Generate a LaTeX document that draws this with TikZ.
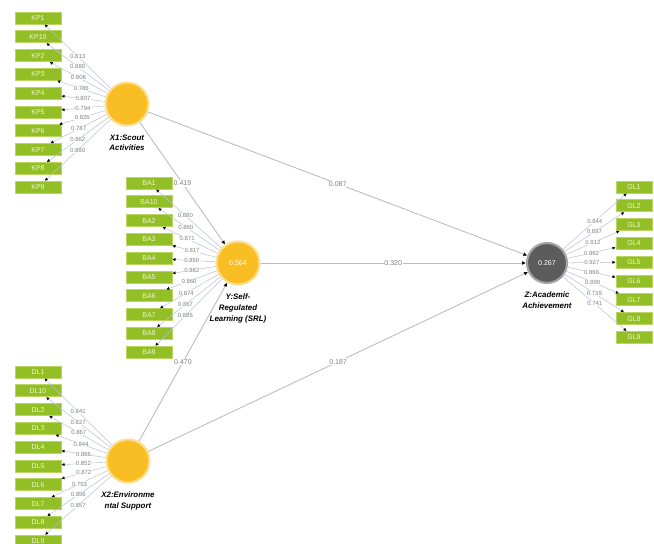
\documentclass[tikz,border=0pt]{standalone}
\usepackage{fontspec}
\setmainfont{Liberation Sans}
\usetikzlibrary{arrows.meta,positioning}
\definecolor{indgreen}{RGB}{146,190,38}
\definecolor{indedge}{RGB}{186,214,96}
\definecolor{indtext}{RGB}{240,246,205}
\definecolor{latyellow}{RGB}{249,190,36}
\definecolor{latglow}{RGB}{253,222,140}
\definecolor{latgray}{RGB}{92,92,92}
\definecolor{pathgray}{RGB}{188,188,188}
\definecolor{loadblue}{RGB}{184,194,218}
\tikzset{
  indbox/.style={draw=indedge,fill=indgreen,line width=0.4pt,minimum width=0.92cm,
    minimum height=0.24cm,inner sep=0pt,text=indtext,font=\fontsize{4}{4}\selectfont},
  latvar/.style={circle,fill=latyellow,draw=latglow,line width=1.2pt,minimum size=0.86cm,
    inner sep=0pt,text=white,font=\fontsize{4}{4}\selectfont},
  latname/.style={align=center,font=\fontsize{4.5}{6.2}\selectfont\bfseries\itshape},
  loadline/.style={draw=loadblue,line width=0.3pt,-{Latex[length=1.8pt,width=1.8pt,color=black]}},
  pathline/.style={draw=pathgray,line width=0.5pt,-{Latex[length=2.2pt,width=2.2pt,color=black]}},
  coef/.style={fill=white,inner sep=0.2pt,text=gray,font=\fontsize{3.4}{3.4}\selectfont},
  pcoef/.style={fill=white,inner sep=0.4pt,text=gray,font=\fontsize{4}{4}\selectfont}
}
\begin{document}
\begin{tikzpicture}[x=0.02cm,y=-0.02cm]
\pgfmathsetmacro{\passo}{18.8} % passo verticale fra gli indicatori
\useasboundingbox (0,0) rectangle (654,544);

% variabili latenti
\node[latvar] (x1) at (127,104) {};
\node[latvar] (y) at (238,263) {0.564};
\node[latvar] (x2) at (128,461) {};
\node[latvar,fill=latgray,draw=latgray!55,minimum size=0.8cm] (z) at (547,263) {0.267};
\node[latname,below=1pt of x1] (x1lab) {X1:Scout\\Activities};
\node[latname,below=1pt of y] (ylab) {Y:Self-\\Regulated\\Learning (SRL)};
\node[latname,below=1pt of x2] (x2lab) {X2:Environme\\ntal Support};
\node[latname,below=1pt of z] (zlab) {Z:Academic\\Achievement};

% indicatori
\foreach \nome [count=\i from 0] in {KP1,KP10,KP2,KP3,KP4,KP5,KP6,KP7,KP8,KP9}
  \node[indbox] (kp\i) at (38,18+\passo*\i) {\nome};
\foreach \nome [count=\i from 0] in {BA1,BA10,BA2,BA3,BA4,BA5,BA6,BA7,BA8,BA9}
  \node[indbox] (ba\i) at (149,183+\passo*\i) {\nome};
\foreach \nome [count=\i from 0] in {DL1,DL10,DL2,DL3,DL4,DL5,DL6,DL7,DL8,DL9}
  \node[indbox] (dl\i) at (38,372+\passo*\i) {\nome};
\foreach \nome [count=\i from 0] in {GL1,GL2,GL3,GL4,GL5,GL6,GL7,GL8,GL9}
  \node[indbox,minimum width=0.72cm] (gl\i) at (634,187+\passo*\i) {\nome};

% loading
\foreach \val [count=\i from 0] in {0.813,0.880,0.808,0.786,0.807,0.794,0.826,0.787,0.862,0.860}
  \draw[loadline] (x1) -- node[coef] {\val} (kp\i);
\foreach \val [count=\i from 0] in {0.880,0.860,0.871,0.817,0.850,0.882,0.860,0.874,0.867,0.886}
  \draw[loadline] (y) -- node[coef,pos=0.55] {\val} (ba\i);
\foreach \val [count=\i from 0] in {0.841,0.827,0.867,0.844,0.866,0.852,0.872,0.753,0.856,0.857}
  \draw[loadline] (x2) -- node[coef] {\val} (dl\i);
\foreach \val [count=\i from 0] in {0.844,0.887,0.912,0.862,0.927,0.866,0.890,0.739,0.741}
  \draw[loadline] (z) -- node[coef,pos=0.5] {\val} (gl\i);

% coefficienti di percorso
\draw[pathline] (x1) -- node[pcoef] {0.087} (z); % X1 -> Z
\draw[pathline] (y) -- node[pcoef] {0.320} (z); % Y -> Z
\draw[pathline] (x2) -- node[pcoef] {0.187} (z); % X2 -> Z
\draw[pathline] (x1) -- node[pcoef] {0.419} (y); % X1 -> Y
\draw[pathline] (x2) -- node[pcoef] {0.470} (y); % X2 -> Y
\end{tikzpicture}
\end{document}
